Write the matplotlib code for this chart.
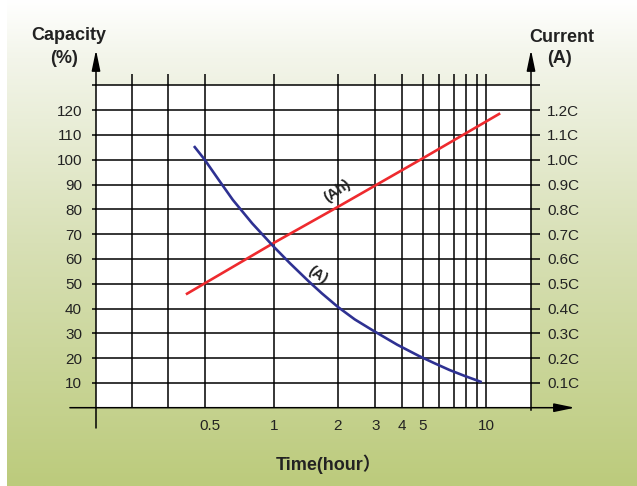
import numpy as np
import matplotlib.pyplot as plt
from matplotlib.colors import LinearSegmentedColormap

plt.rcParams['font.family'] = ['Liberation Sans', 'Noto Sans CJK SC', 'DejaVu Sans']

# values (time in hours, capacity in %)
ah_time = [0.385, 1.0, 2.0, 5.0, 11.6]
ah_capacity = [45.7, 66.5, 81.0, 100.5, 118.7]

a_time = [0.42, 0.47, 0.55, 0.64, 0.79, 1.0, 1.19, 1.45, 1.68, 2.0,
          2.4, 2.9, 3.8, 4.8, 5.7, 6.7, 7.9, 9.5]
a_capacity = [105.5, 100.2, 91.8, 83.8, 74.3, 64.8, 58.2, 51.1, 46.1, 40.6,
              35.6, 31.3, 25.4, 20.9, 17.9, 15.2, 12.8, 10.3]

cap_ticks = [10, 20, 30, 40, 50, 60, 70, 80, 90, 100, 110, 120, 130]
cap_labels = [str(v) for v in cap_ticks[:-1]] + ['']
cur_ticks = [0.1, 0.2, 0.3, 0.4, 0.5, 0.6, 0.7, 0.8, 0.9, 1.0, 1.1, 1.2, 1.3]
cur_labels = ['%.1fC' % v for v in cur_ticks[:-1]] + ['']
time_ticks = [0.5, 1, 2, 3, 4, 5, 10]
time_labels = ['0.5', '1', '2', '3', '4', '5', '10']
time_grid = [0.215, 0.318, 0.4735, 1, 2, 3, 4, 5, 6, 7, 8, 9, 10]

W, H = 637, 486
INK = '#222222'
fig = plt.figure(figsize=(W / 100, H / 100), dpi=100)

# background gradient
bg = fig.add_axes([7 / W, 0, 1 - 7 / W, 1], zorder=-10)
cmap = LinearSegmentedColormap.from_list(
    'bg', [(0, '#ffffff'), (0.12, '#f3f5ea'), (0.5, '#d8e0b6'), (1, '#bccb7c')])
bg.imshow(np.linspace(0, 1, 256)[:, None], aspect='auto', cmap=cmap)
bg.axis('off')

# plot area: left axis at x=96px, right at 531px, y=0 at 407.7px, y=130 at 85.3px
ax = fig.add_axes([96 / W, (H - 407.7) / H, 435 / W, 322.4 / H])
ax.set_facecolor('white')
ax.set_xscale('log')
ax.set_xlim(0.1453, 16.2)
ax.set_ylim(0, 130)
for s in ax.spines.values():
    s.set_visible(False)

ax.minorticks_off()
ax.set_xticks(time_ticks, time_labels)
ax.tick_params(axis='x', length=0, pad=8, labelsize=11, labelcolor=INK)
ax.set_yticks(cap_ticks, cap_labels)
ax.tick_params(axis='y', length=3, width=1.1, pad=7, labelsize=11, labelcolor=INK)

ax2 = ax.twinx()
for s in ax2.spines.values():
    s.set_visible(False)
ax2.set_ylim(0, 1.3)
ax2.set_yticks(cur_ticks, cur_labels)
ax2.tick_params(axis='y', length=6.5, width=1.1, pad=5, labelsize=11, labelcolor=INK)

# grid
for y in cap_ticks:
    ax.axhline(y, color='black', lw=1.1, clip_on=False, zorder=1)
ax.vlines(time_grid, 0, 134.6, color='black', lw=1.1, clip_on=False, zorder=1)

# axes with arrows
arrow = dict(arrowstyle='-|>,head_length=12.5,head_width=2.6', mutation_scale=1,
             color='black', lw=1.1, shrinkA=0, shrinkB=0)
ax.annotate('', xy=(0, 1.1095), xytext=(0, -0.063), xycoords='axes fraction',
            arrowprops=arrow, annotation_clip=False)
ax.annotate('', xy=(1, 1.1095), xytext=(1, -0.008), xycoords='axes fraction',
            arrowprops=arrow, annotation_clip=False)
ax.annotate('', xy=(1.101, 0), xytext=(-0.06, 0), xycoords='axes fraction',
            arrowprops=arrow, annotation_clip=False)

# curves
ax.plot(ah_time, ah_capacity, color='#ee2a2e', lw=1.9, zorder=3, solid_capstyle='butt')
ax.plot(a_time, a_capacity, color='#2e3192', lw=1.9, zorder=3, solid_capstyle='butt',
        solid_joinstyle='round')
ax.text(1.98, 87.5, '(Ah)', rotation=35, ha='center', va='center',
        fontsize=10.5, fontweight='bold', color=INK, zorder=4)
ax.text(1.61, 53.5, '(A)', rotation=-35, ha='center', va='center',
        fontsize=10.5, fontweight='bold', color=INK, zorder=4)

# axis titles
def ftext(x, y, s, **kw):
    fig.text(x / W, 1 - y / H, s, ha='center', va='baseline', fontsize=13,
             fontweight='bold', color=INK, **kw)

ftext(69, 39.5, 'Capacity')
ftext(64, 62.5, '(%)')
ftext(562, 41.7, 'Current')
ftext(559, 62.7, '(A)')
ftext(329, 470, 'Time(hour\uff09')

fig.savefig('out.png', dpi=100)
